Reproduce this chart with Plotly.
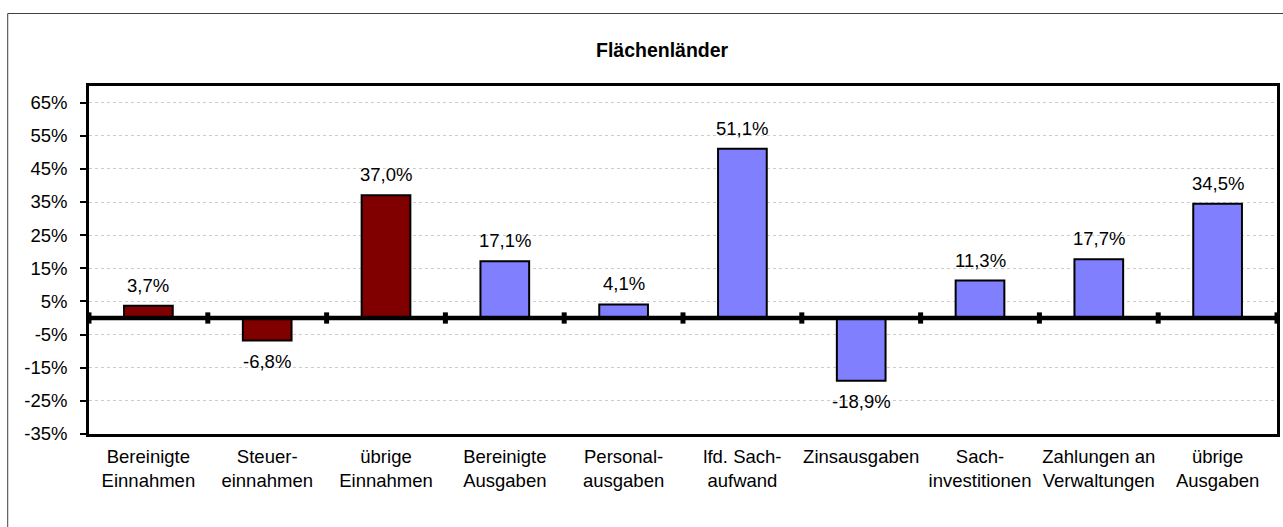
import plotly.graph_objects as go

categories = ["Bereinigte<br>Einnahmen", "Steuer-<br>einnahmen", "übrige<br>Einnahmen",
              "Bereinigte<br>Ausgaben", "Personal-<br>ausgaben", "lfd. Sach-<br>aufwand",
              "Zinsausgaben", "Sach-<br>investitionen", "Zahlungen an<br>Verwaltungen",
              "übrige<br>Ausgaben"]
values = [3.7, -6.8, 37.0, 17.1, 4.1, 51.1, -18.9, 11.3, 17.7, 34.5]
groups = ["E", "E", "E", "A", "A", "A", "A", "A", "A", "A"]
ytick_vals = [-35, -25, -15, -5, 5, 15, 25, 35, 45, 55, 65]
title_text = "Flächenländer"

color_map = {"E": "#800000", "A": "#8080FF"}
FONT = "Arial, Liberation Sans, sans-serif"
FS = 18.5

x_idx = list(range(len(categories)))
fig = go.Figure()
fig.add_trace(go.Bar(
    x=x_idx, y=values, width=0.41,
    marker=dict(color=[color_map[g] for g in groups], line=dict(color="black", width=2)),
    hoverinfo="skip",
))

def fmt(v):
    return ("%.1f" % v).replace(".", ",") + "%"

annotations = []
for i, v in zip(x_idx, values):
    annotations.append(dict(
        x=i, y=v, xref="x", yref="y", text=fmt(v), showarrow=False,
        yanchor="bottom" if v >= 0 else "top", yshift=8 if v >= 0 else -8,
        font=dict(family=FONT, size=FS, color="black"),
    ))
annotations.append(dict(
    x=(664 - 89) / 1191, y=(434 - 50) / 348, xref="paper", yref="paper",
    text="<b>" + title_text + "</b>", showarrow=False, xanchor="center", yanchor="middle",
    font=dict(family=FONT, size=19.5, color="black"),
))

shapes = []
# outer chart border
shapes.append(dict(type="rect", xref="paper", yref="paper",
                   x0=(7.5 - 89) / 1191, x1=1.05, y0=-0.5, y1=(434 - 13.5) / 348,
                   line=dict(color="#404040", width=1), layer="below"))
# zero line
shapes.append(dict(type="line", xref="paper", yref="y", x0=0, x1=1, y0=0, y1=0,
                   line=dict(color="black", width=4.5), layer="above"))
# tick marks at category boundaries on zero line
for k in range(len(categories) + 1):
    shapes.append(dict(type="line", xref="x", yref="y", x0=k - 0.5, x1=k - 0.5,
                       y0=-1.7, y1=1.7, line=dict(color="black", width=5), layer="above"))

fig.update_layout(
    width=1283, height=527,
    margin=dict(l=89, r=3, t=86, b=93),
    paper_bgcolor="white", plot_bgcolor="white",
    showlegend=False,
    font=dict(family=FONT, size=FS, color="black"),
    annotations=annotations, shapes=shapes,
    xaxis=dict(range=[-0.5, len(categories) - 0.5], tickvals=x_idx, ticktext=categories,
               showgrid=False, zeroline=False, showline=True, mirror=True,
               linecolor="black", linewidth=2.5, ticks="", ticklabelstandoff=4,
               tickfont=dict(family=FONT, size=FS, color="black")),
    yaxis=dict(range=[-35, 70], tickvals=ytick_vals, ticktext=["%d%%" % v for v in ytick_vals],
               showgrid=True, gridcolor="#cccccc", griddash="dot", gridwidth=1,
               zeroline=False, showline=True, mirror=True, linecolor="black", linewidth=2.5,
               ticks="outside", ticklen=6, tickcolor="black", tickwidth=1.5,
               ticklabelstandoff=9,
               tickfont=dict(family=FONT, size=FS, color="black")),
)

fig.write_html("out.html", config={"displayModeBar": False},
               post_script="document.body.style.margin='0';document.body.style.overflow='hidden';")
